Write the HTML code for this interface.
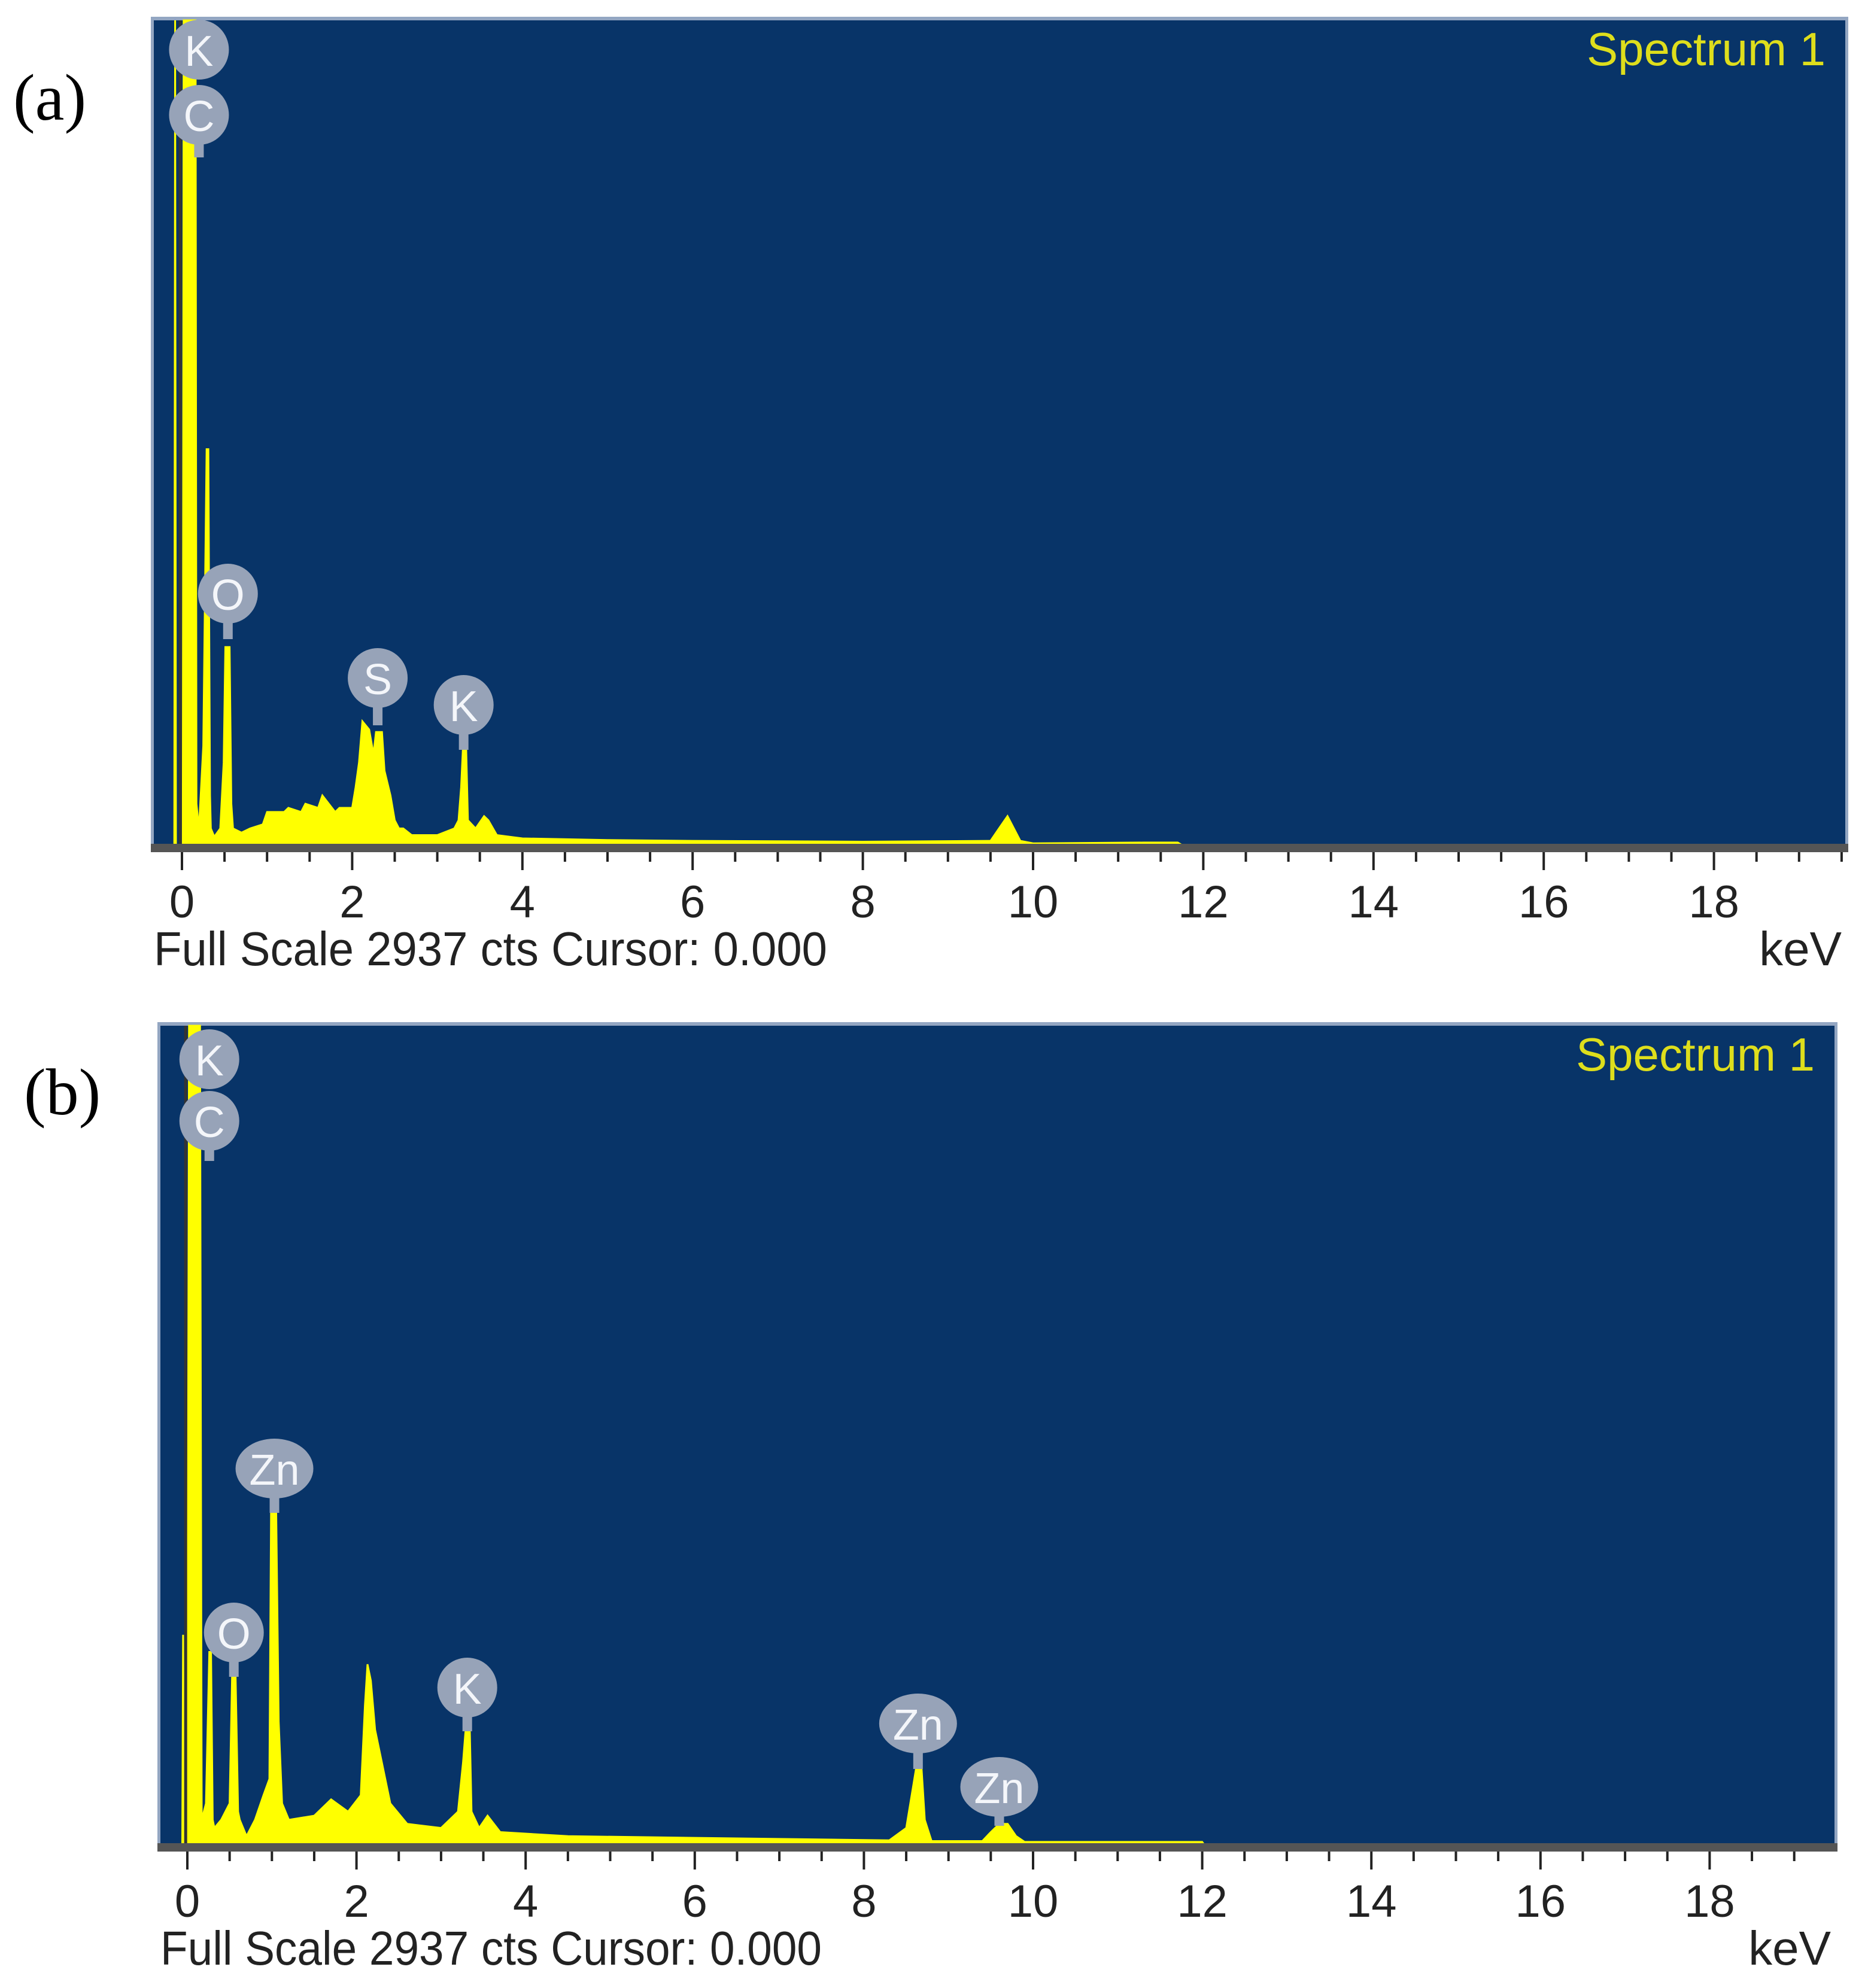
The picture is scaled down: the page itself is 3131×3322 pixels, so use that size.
<!DOCTYPE html>
<html><head><meta charset="utf-8"><style>
html,body{margin:0;padding:0;background:#fff;}
svg{display:block;}
</style></head><body>
<svg id="fig" width="3131" height="3322" viewBox="0 0 3131 3322" xmlns="http://www.w3.org/2000/svg">
<rect width="3131" height="3322" fill="#fff"/>
<text x="22" y="200" font-family="Liberation Serif, serif" font-size="110">(a)</text>
<text x="40" y="1862" font-family="Liberation Serif, serif" font-size="110">(b)</text>
</svg>
<script>
// ---- data: spectrum (a) ----
const energyA = [-0.09,-0.08,-0.07,0.01,0.02,0.16,0.17,0.2,0.25,0.27,0.29,0.31,0.33,0.34,0.38,0.45,0.49,0.51,0.53,0.56,0.58,0.6,0.7,0.8,0.95,1.0,1.2,1.25,1.4,1.45,1.6,1.65,1.8,1.85,2.0,2.04,2.08,2.12,2.2,2.25,2.28,2.35,2.38,2.45,2.5,2.55,2.6,2.7,3.0,3.2,3.25,3.28,3.3,3.34,3.36,3.45,3.55,3.6,3.7,4.0,5.0,6.0,8.0,9.5,9.6,9.7,9.8,9.85,10.0,11.3,11.7,11.75];
const countsA = [0,1.0,0,0,1.0,1.0,0.05,0.02,0.12,0.3,0.48,0.48,0.06,0.02,0.01,0.02,0.1,0.24,0.24,0.24,0.05,0.02,0.015,0.02,0.025,0.04,0.04,0.045,0.04,0.05,0.045,0.06,0.04,0.045,0.045,0.07,0.1,0.15,0.14,0.11,0.137,0.137,0.09,0.06,0.03,0.02,0.02,0.012,0.012,0.02,0.03,0.07,0.115,0.115,0.03,0.02,0.035,0.03,0.012,0.008,0.006,0.005,0.004,0.005,0.02,0.035,0.015,0.005,0.002,0.003,0.003,0];
const peakLabelsA = ["K","C","O","S","K"];
const peakEnergyA = [0.2,0.2,0.54,2.3,3.31];
const peakLabelY_A = [83,192,992,1133,1178];
const stemEndA = [null,263,1068,1212,1253];
// ---- data: spectrum (b) ----
const energyB = [-0.06,-0.05,-0.03,0.0,0.02,0.15,0.17,0.22,0.26,0.28,0.3,0.32,0.4,0.5,0.53,0.57,0.6,0.62,0.7,0.8,0.9,0.97,0.99,1.05,1.08,1.12,1.2,1.5,1.7,1.9,2.05,2.1,2.13,2.17,2.22,2.3,2.4,2.6,3.0,3.2,3.26,3.29,3.34,3.36,3.45,3.55,3.7,4.5,6.0,8.3,8.5,8.58,8.62,8.68,8.72,8.8,8.85,9.4,9.5,9.6,9.7,9.8,9.9,12.0,12.02];
const countsB = [0,0.256,0.02,0.02,1.0,1.0,0.03,0.05,0.235,0.235,0.03,0.02,0.03,0.05,0.21,0.21,0.04,0.03,0.01,0.03,0.06,0.08,0.41,0.41,0.15,0.05,0.03,0.035,0.055,0.04,0.06,0.17,0.22,0.2,0.14,0.1,0.05,0.025,0.02,0.04,0.1,0.14,0.14,0.04,0.02,0.035,0.015,0.01,0.008,0.005,0.02,0.07,0.095,0.095,0.03,0.004,0.004,0.004,0.015,0.025,0.025,0.01,0.003,0.003,0];
const peakLabelsB = ["K","C","Zn","O","K","Zn","Zn"];
const peakEnergyB = [0.26,0.26,1.03,0.55,3.31,8.64,9.6];
const peakLabelY_B = [1770,1873,2454,2728,2820,2880,2986];
const stemEndB = [null,1940,2528,2802,2893,2956,3051];
const tickLabels = ["0","2","4","6","8","10","12","14","16","18"];

const NS="http://www.w3.org/2000/svg";
const svg=document.getElementById('fig');
function mk(tag,attrs,parent){const e=document.createElementNS(NS,tag);for(const k in attrs)e.setAttribute(k,attrs[k]);(parent||svg).appendChild(e);return e;}

function drawPanel(P){
  const g=mk('g',{});
  
  
  const xs=e=>P.x0+P.kx*e;
  const ys=v=>P.base-(P.base-P.top)*v;
  const fr=mk('rect',{x:P.left-5,y:P.top-6,width:P.right-P.left+10,height:P.axisY-P.top+6,fill:'#93a6c2'},g);
  
  
  const bg=mk('rect',{x:P.left,y:P.top,width:P.right-P.left,height:P.axisY-P.top,fill:'#083468'},g);
  
  
  let d='M'+xs(P.energy[0])+','+P.base;
  for(let i=0;i<P.energy.length;i++){d+=' L'+xs(P.energy[i]).toFixed(1)+','+ys(P.counts[i]).toFixed(1);}
  d+=' L'+xs(P.energy[P.energy.length-1])+','+P.base+' Z';
  const sp=mk('path',{d:d,fill:'#ffff00',stroke:'#ffff00','stroke-width':3,'stroke-linejoin':'miter'},g);
  
  
  const dl=mk('line',{x1:xs(-0.02),x2:xs(-0.02),y1:P.top,y2:P.base,stroke:'#333','stroke-width':5},g);
  
  
  const ab=mk('rect',{x:P.left-5,y:P.axisY-8,width:P.right-P.left+10,height:14,fill:'#555'},g);
  
  
  for(let k=0;k*0.5<=19.5;k++){
    const e=k*0.5, x=xs(e); if(x>P.right-5)break;
    const major=(k%4===0);
    const t=mk('line',{x1:x,x2:x,y1:P.axisY+6,y2:P.axisY+(major?36:22),stroke:'#222','stroke-width':4},g);
    
    
  }
  tickLabels.forEach((lab,i)=>{
    const t=mk('text',{x:xs(i*2),y:P.axisY+115,'text-anchor':'middle','font-family':'Liberation Sans, sans-serif','font-size':76,fill:'#222'},g);
    t.textContent=lab;
    
    
  });
  const ft=mk('text',{x:P.left,y:P.axisY+195,'font-family':'Liberation Sans, sans-serif','font-size':80,fill:'#222',textLength:P.footW,lengthAdjust:'spacingAndGlyphs'},g);
  ft.textContent='Full Scale 2937 cts Cursor: 0.000';
  
  
  const kv=mk('text',{x:P.right-6,y:P.axisY+195,'text-anchor':'end','font-family':'Liberation Sans, sans-serif','font-size':80,fill:'#222'},g);
  kv.textContent='keV';
  
  
  const st=mk('text',{x:P.right-33,y:P.top+75,'text-anchor':'end','font-family':'Liberation Sans, sans-serif','font-size':78,fill:'#dede1c'},g);
  st.textContent='Spectrum 1';
  
  
  P.labels.forEach((lab,i)=>{
    const cx=xs(P.pe[i]), cy=P.ly[i];
    const w=lab.length>1?130:100;
    const lg=mk('g',{},g);
    
    
    if(P.se[i]!==null){mk('rect',{x:cx-8,y:cy,width:16,height:P.se[i]-cy,fill:'#97a3b8'},lg);}
    mk('ellipse',{cx:cx,cy:cy,rx:w/2,ry:50,fill:'#97a3b8'},lg);
    const tx=mk('text',{x:cx,y:cy+27,'text-anchor':'middle','font-family':'Liberation Sans, sans-serif','font-size':72,fill:'#f4f6fa'},lg);
    tx.textContent=lab;
  });
}

drawPanel({name:'spectrum-panel-a',left:257,right:3083,top:34,axisY:1418,base:1412,x0:304,kx:142.2,
  energy:energyA,counts:countsA,labels:peakLabelsA,pe:peakEnergyA,ly:peakLabelY_A,se:stemEndA,footW:1125});
drawPanel({name:'spectrum-panel-b',left:268,right:3065,top:1714,axisY:3088,base:3082,x0:313,kx:141.3,
  energy:energyB,counts:countsB,labels:peakLabelsB,pe:peakEnergyB,ly:peakLabelY_B,se:stemEndB,footW:1105});
</script>
</body></html>
